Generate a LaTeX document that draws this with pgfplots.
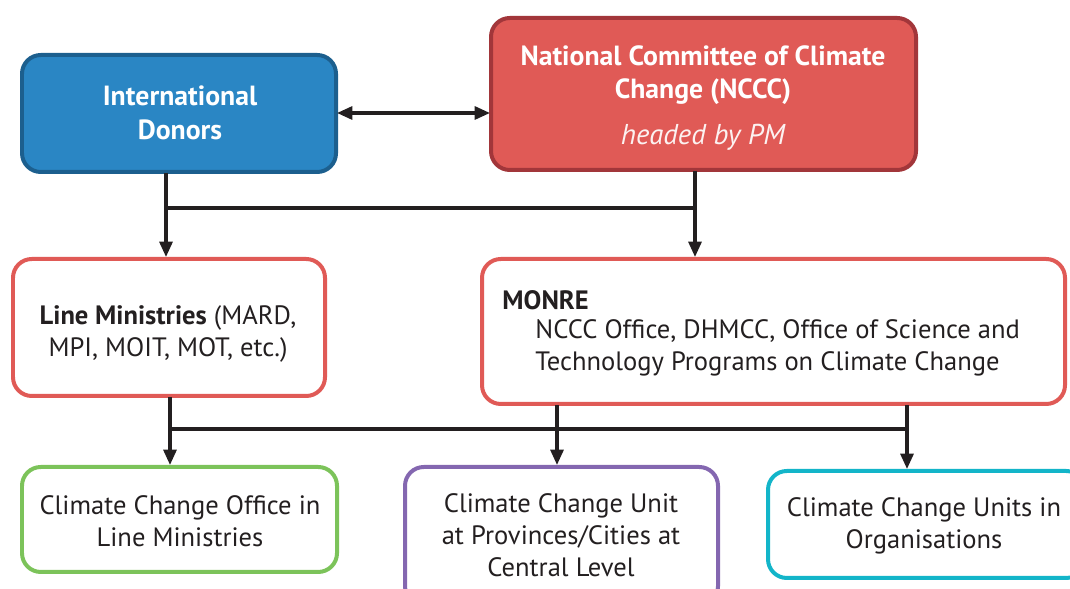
\documentclass[border=0pt]{standalone}
\usepackage{fontspec}
\setmainfont{PT Sans}
\usepackage{pgfplots}
\pgfplotsset{compat=1.18}
\usetikzlibrary{arrows.meta}
\definecolor{donorblue}{HTML}{2A86C4}
\definecolor{donoredge}{HTML}{1C5F8E}
\definecolor{ncccred}{HTML}{E05A56}
\definecolor{ncccedge}{HTML}{A2363A}
\definecolor{boxgreen}{HTML}{7CC35A}
\definecolor{boxpurple}{HTML}{8467B0}
\definecolor{boxcyan}{HTML}{13B5C9}
\definecolor{ink}{HTML}{231F20}

\begin{document}
\begin{tikzpicture}[
  box/.style={line width=1.7pt, rounded corners=8pt},
  link/.style={ink, line width=1.3pt},
  arr/.style={link, -{Triangle[length=6.5pt, width=5.5pt]}},
  lbl/.style={font=\fontsize{11.3}{13.6}\selectfont, text=ink, align=center, inner sep=0pt},
]
\begin{axis}[
  width=16cm, height=8.807cm, scale only axis,
  xmin=0, xmax=1070, ymin=0, ymax=589, y dir=reverse,
  axis lines=none, clip=true,
]
% keep the full canvas as the picture's extent
\path (axis cs:0,0) rectangle (axis cs:1070,589);

% boxes
\draw[box, fill=donorblue, draw=donoredge] (axis cs:22,55) rectangle (axis cs:336,172);
\draw[box, fill=ncccred, draw=ncccedge] (axis cs:491,18) rectangle (axis cs:916,170);
\draw[box, draw=ncccred] (axis cs:13,259) rectangle (axis cs:325,396);
\draw[box, draw=ncccred] (axis cs:482,259) rectangle (axis cs:1065,404);
\draw[box, draw=boxgreen] (axis cs:22,467) rectangle (axis cs:337,572);
\draw[box, draw=boxpurple] (axis cs:405,467) rectangle (axis cs:718,605);
\draw[box, draw=boxcyan] (axis cs:768,471) rectangle (axis cs:1085,578);

% connectors, top level
\draw[link, {Triangle[length=6.5pt, width=5.5pt]}-{Triangle[length=6.5pt, width=5.5pt]}] (axis cs:337,113) -- (axis cs:490,113);
\draw[arr] (axis cs:166,173) -- (axis cs:166,257);
\draw[arr] (axis cs:695,171) -- (axis cs:695,257);
\draw[link] (axis cs:166,208) -- (axis cs:695,208);

% connectors, lower level
\draw[arr] (axis cs:170,397) -- (axis cs:170,465);
\draw[arr] (axis cs:557,405) -- (axis cs:557,465);
\draw[link] (axis cs:170,429) -- (axis cs:907,429);
\draw[arr] (axis cs:907,405) -- (axis cs:907,469);

% texts
\node[lbl, text=white, font=\fontsize{11.8}{14.3}\selectfont\bfseries] at (axis cs:180,113) {International\\Donors};
\node[lbl, text=white, font=\fontsize{11.8}{14.3}\selectfont\bfseries] at (axis cs:703,75) {National Committee of Climate\\Change (NCCC)};
\node[lbl, text=white!92!ncccred, font=\fontsize{12.2}{14}\selectfont\itshape] at (axis cs:703,137) {headed by PM};

\node[lbl] at (axis cs:168,334) {\textbf{Line Ministries} (MARD,\\MPI, MOIT, MOT, etc.)};
\node[lbl, anchor=west] at (axis cs:502,300) {\textbf{MONRE}};
\node[lbl, anchor=west, align=left] at (axis cs:535,348) {NCCC Office, DHMCC, Office of Science and\\Technology Programs on Climate Change};

\node[lbl] at (axis cs:180,521) {Climate Change Office in\\Line Ministries};
\node[lbl] at (axis cs:561,535) {Climate Change Unit\\at Provinces/Cities at\\Central Level};
\node[lbl] at (axis cs:924,526) {Climate Change Units in\\Organisations};
\end{axis}
\end{tikzpicture}
\end{document}
